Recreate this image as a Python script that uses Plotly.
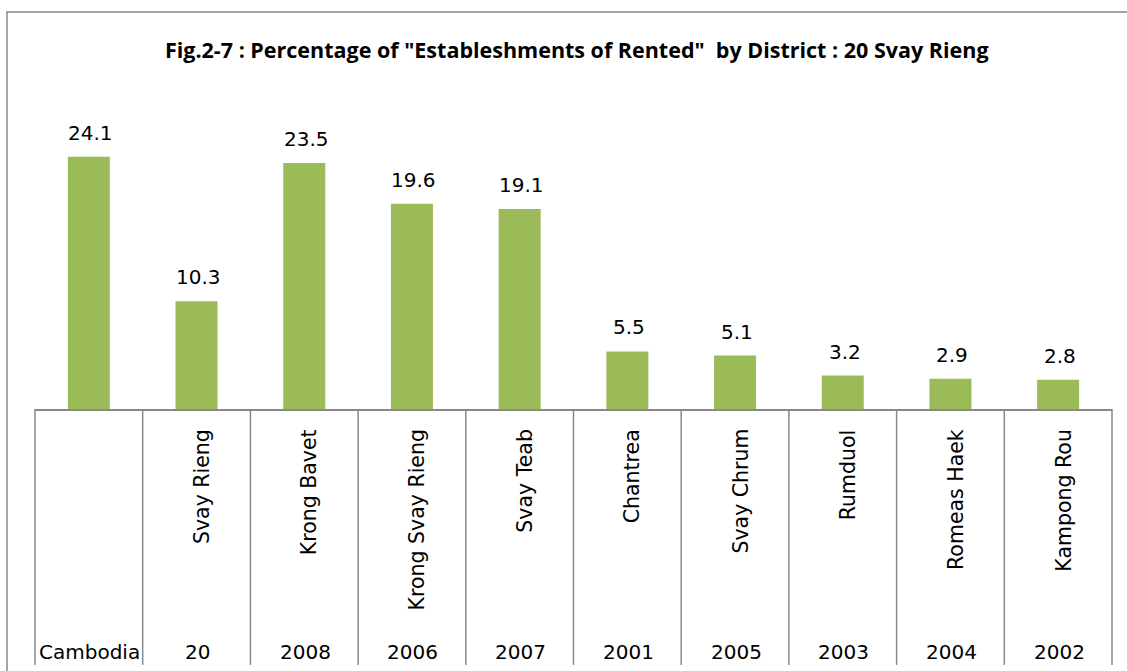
import plotly.graph_objects as go

# ---- data ----
codes = ["Cambodia", "20", "2008", "2006", "2007", "2001", "2005", "2003", "2004", "2002"]
district_names = ["", "Svay Rieng", "Krong Bavet", "Krong Svay Rieng", "Svay Teab",
                  "Chantrea", "Svay Chrum", "Rumduol", "Romeas Haek", "Kampong Rou"]
values = [24.1, 10.3, 23.5, 19.6, 19.1, 5.5, 5.1, 3.2, 2.9, 2.8]
title_text = 'Fig.2-7 : Percentage of "Estableshments of Rented"  by District : 20 Svay Rieng'

BAR_COLOR = "#9BBB59"
LINE_COLOR = "#898989"
LABEL_FONT = "DejaVu Sans, sans-serif"
TITLE_FONT = "Open Sans, Lato, sans-serif"

idx = list(range(len(codes)))

fig = go.Figure()
fig.add_trace(go.Bar(
    x=idx, y=values, marker=dict(color=BAR_COLOR, line=dict(width=0)),
    width=0.39, customdata=codes, hovertemplate="%{customdata}: %{y}<extra></extra>",
    showlegend=False,
))

annotations = []
# value labels
for i, v in zip(idx, values):
    annotations.append(dict(x=i, y=v, xref="x", yref="y", text=f"{v}", showarrow=False,
                            yanchor="bottom", yshift=10, xshift=2,
                            font=dict(family=LABEL_FONT, size=20, color="#000000")))
# rotated district names
for i, name in zip(idx, district_names):
    if name:
        annotations.append(dict(x=i, y=0, xref="x", yref="paper", text=name, showarrow=False,
                                textangle=-90, yanchor="top", xanchor="center",
                                yshift=-18, xshift=5,
                                font=dict(family=LABEL_FONT, size=20.5, color="#000000")))
# code labels
for i, c in zip(idx, codes):
    annotations.append(dict(x=i, y=0, xref="x", yref="paper", text=c, showarrow=False,
                            yanchor="middle", yshift=-243, xshift=1,
                            font=dict(family=LABEL_FONT, size=20, color="#000000")))

shapes = []
n = len(codes)
# category separators
for i in range(n + 1):
    if i == 0 or i == n:
        shapes.append(dict(type="line", xref="x domain", yref="paper",
                           x0=i / n, x1=i / n, y0=0, y1=-0.815,
                           line=dict(color=LINE_COLOR, width=1.5)))
    else:
        shapes.append(dict(type="line", xref="x", yref="paper",
                           x0=i - 0.5, x1=i - 0.5, y0=0, y1=-0.815,
                           line=dict(color=LINE_COLOR, width=1.5)))
# outer chart border
shapes.append(dict(type="rect", xref="paper", yref="paper",
                   x0=-0.026, x1=1.03, y0=-0.95, y1=1.264,
                   line=dict(color=LINE_COLOR, width=1.5), fillcolor="rgba(0,0,0,0)"))

fig.update_layout(
    width=1127, height=671,
    margin=dict(l=35, r=15, t=95, b=262),
    paper_bgcolor="white", plot_bgcolor="white",
    title=dict(text=f"<b>{title_text}</b>", x=0.503, xref="paper", xanchor="center",
               y=1 - 50 / 671, yanchor="middle",
               font=dict(family=TITLE_FONT, size=21.5, color="#000000")),
    xaxis=dict(range=[-0.5, n - 0.5], showticklabels=False,
               showline=True, linecolor=LINE_COLOR, linewidth=2, ticks="",
               showgrid=False, zeroline=False, fixedrange=True),
    yaxis=dict(range=[0, 30], visible=False, showgrid=False, zeroline=False, fixedrange=True),
    annotations=annotations,
    shapes=shapes,
)

fig.write_html("out.html", config={"displayModeBar": False},
               post_script="document.body.style.margin='0';")
